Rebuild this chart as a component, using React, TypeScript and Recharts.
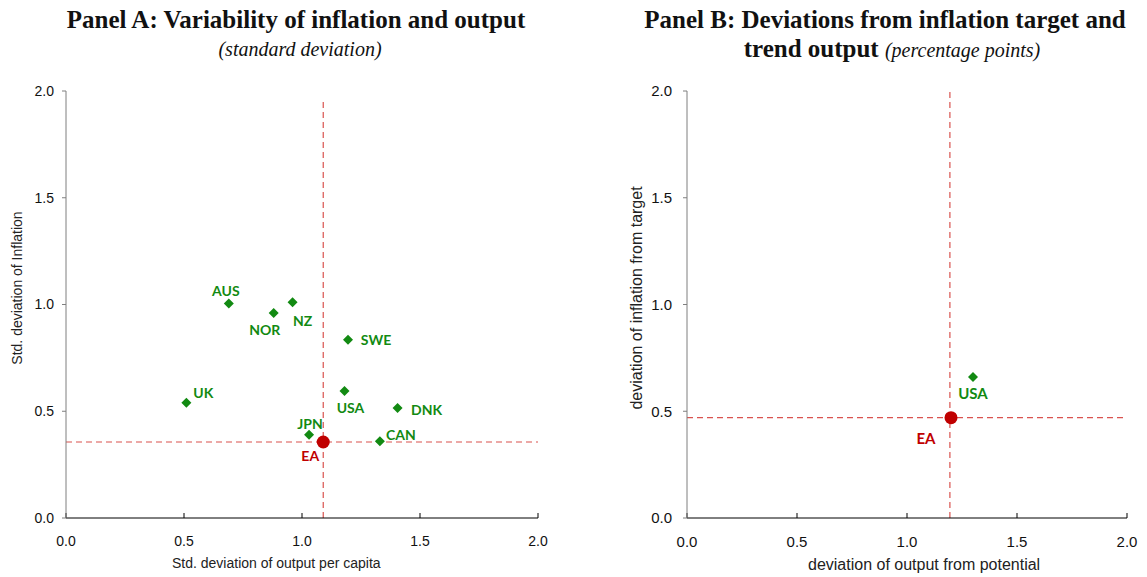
import { ScatterChart, Scatter, XAxis, YAxis, ReferenceLine } from 'recharts';

// Panel A: standard deviations
const panelACountries = ['AUS', 'NOR', 'NZ', 'SWE', 'UK', 'USA', 'DNK', 'JPN', 'CAN'];
const panelAOutput = [0.69, 0.88, 0.96, 1.195, 0.51, 1.18, 1.405, 1.03, 1.33];
const panelAInflation = [1.005, 0.96, 1.01, 0.835, 0.54, 0.595, 0.515, 0.39, 0.36];
const panelAEaOutput = 1.09;
const panelAEaInflation = 0.356;

// Panel B: deviations from target / trend
const panelBCountries = ['USA'];
const panelBOutput = [1.3];
const panelBInflation = [0.66];
const panelBEaOutput = 1.2;
const panelBEaInflation = 0.47;

const axisTicks = [0, 0.5, 1, 1.5, 2];

const GREEN = '#128a12';
const RED = '#c00000';
const DASH = '#d9534f';

// label offsets relative to the marker (px)
const labelOffsetA: Record<string, [number, number]> = {
  AUS: [-3, -13], NOR: [-9, 16], NZ: [10, 18], SWE: [28, 0], UK: [17, -10],
  USA: [6, 17], DNK: [29, 1], JPN: [1, -11], CAN: [21, -7], EA: [-13, 14],
};
const labelOffsetB: Record<string, [number, number]> = {
  USA: [0, 16], EA: [-25, 20],
};

const toPoints = (names: string[], xs: number[], ys: number[]) =>
  names.map((name, i) => ({ name, x: xs[i], y: ys[i] }));

const labelFont = 'Lato, "Liberation Sans", sans-serif';

const diamond = (offsets: Record<string, [number, number]>, fontSize: number) => (props: any) => {
  const { cx, cy, payload } = props;
  const [dx, dy] = offsets[payload.name] || [0, 0];
  const r = 5;
  return (
    <g>
      <path d={`M${cx},${cy - r}L${cx + r},${cy}L${cx},${cy + r}L${cx - r},${cy}Z`} fill={GREEN} />
      <text x={cx + dx} y={cy + dy} textAnchor="middle" dominantBaseline="central" fill={GREEN}
        style={{ fontFamily: labelFont, fontWeight: 700, fontSize }}>
        {payload.name}
      </text>
    </g>
  );
};

const circle = (offsets: Record<string, [number, number]>, fontSize: number) => (props: any) => {
  const { cx, cy, payload } = props;
  const [dx, dy] = offsets[payload.name] || [0, 0];
  return (
    <g>
      <circle cx={cx} cy={cy} r={6.5} fill={RED} />
      <text x={cx + dx} y={cy + dy} textAnchor="middle" dominantBaseline="central" fill={RED}
        style={{ fontFamily: labelFont, fontWeight: 700, fontSize }}>
        {payload.name}
      </text>
    </g>
  );
};

const fmt = (v: number) => v.toFixed(1);

const titleStyle: React.CSSProperties = {
  position: 'absolute',
  fontFamily: '"Liberation Serif", "DejaVu Serif", serif',
  fontSize: 25,
  fontWeight: 700,
  color: '#111',
  textAlign: 'center',
  whiteSpace: 'nowrap',
};
const subStyle: React.CSSProperties = { fontWeight: 400, fontStyle: 'italic', fontSize: 20 };
const axisTitleStyle: React.CSSProperties = {
  position: 'absolute',
  fontFamily: '"Liberation Sans", Arial, sans-serif',
  color: '#222',
  whiteSpace: 'nowrap',
};

const Panel = ({
  left, width, right, yAxisWidth, yTickMargin, tickFont, labelSize, points, ea, offsets, eaLine,
}: {
  left: number; width: number; right: number; yAxisWidth: number; yTickMargin: number;
  tickFont: number; labelSize: number;
  points: { name: string; x: number; y: number }[];
  ea: { name: string; x: number; y: number }[];
  offsets: Record<string, [number, number]>;
  eaLine: { x: number; y: number; top: number };
}) => {
  const tickStyle = { fontFamily: '"Liberation Sans", Arial, sans-serif', fontSize: tickFont, fill: '#111' };
  return (
    <div style={{ position: 'absolute', left, top: 0 }}>
      <ScatterChart width={width} height={577} margin={{ top: 91, right, bottom: 0, left: 0 }}>
        <XAxis
          type="number"
          dataKey="x"
          domain={[0, 2]}
          ticks={axisTicks}
          tickFormatter={fmt}
          interval={0}
          height={59}
          stroke="#000"
          tickSize={-5}
          tickMargin={23}
          tick={tickStyle}
          allowDataOverflow
        />
        <YAxis
          type="number"
          dataKey="y"
          domain={[0, 2]}
          ticks={axisTicks}
          tickFormatter={fmt}
          interval={0}
          width={yAxisWidth}
          stroke="#7f7f7f"
          tickSize={4}
          tickMargin={yTickMargin}
          tick={tickStyle}
          allowDataOverflow
        />
        <ReferenceLine
          segment={[{ x: 0, y: eaLine.y }, { x: 2, y: eaLine.y }]}
          stroke={DASH}
          strokeDasharray="6 4"
          strokeWidth={1.2}
          ifOverflow="visible"
        />
        <ReferenceLine
          segment={[{ x: eaLine.x, y: 0 }, { x: eaLine.x, y: eaLine.top }]}
          stroke={DASH}
          strokeDasharray="6 4"
          strokeWidth={1.2}
          ifOverflow="visible"
        />
        <Scatter data={points} shape={diamond(offsets, labelSize)} isAnimationActive={false} />
        <Scatter data={ea} shape={circle(offsets, labelSize)} isAnimationActive={false} />
      </ScatterChart>
    </div>
  );
};

export default function App() {
  const pointsA = toPoints(panelACountries, panelAOutput, panelAInflation);
  const pointsB = toPoints(panelBCountries, panelBOutput, panelBInflation);
  const eaA = [{ name: 'EA', x: panelAEaOutput, y: panelAEaInflation }];
  const eaB = [{ name: 'EA', x: panelBEaOutput, y: panelBEaInflation }];

  return (
    <div style={{ position: 'absolute', left: 0, top: 0, width: 1147, height: 577, background: '#fff', overflow: 'hidden' }}>
      <div style={{ ...titleStyle, left: 0, width: 592, top: 6 }}>Panel A: Variability of inflation and output</div>
      <div style={{ ...titleStyle, ...subStyle, left: 0, width: 600, top: 38 }}>(standard deviation)</div>
      <div style={{ ...titleStyle, left: 600, width: 570, top: 6 }}>Panel B: Deviations from inflation target and</div>
      <div style={{ ...titleStyle, left: 600, width: 584, top: 35 }}>
        trend output <span style={subStyle}>(percentage points)</span>
      </div>

      <Panel
        left={0}
        width={560}
        right={22}
        yAxisWidth={66}
        yTickMargin={8}
        tickFont={14}
        labelSize={14}
        points={pointsA}
        ea={eaA}
        offsets={labelOffsetA}
        eaLine={{ x: panelAEaOutput, y: panelAEaInflation, top: 1.96 }}
      />
      <Panel
        left={580}
        width={567}
        right={20}
        yAxisWidth={107}
        yTickMargin={11}
        tickFont={15}
        labelSize={15}
        points={pointsB}
        ea={eaB}
        offsets={labelOffsetB}
        eaLine={{ x: panelBEaOutput - 0.005, y: panelBEaInflation, top: 2.01 }}
      />

      <div style={{ ...axisTitleStyle, fontSize: 14, left: 172, top: 555 }}>Std. deviation of output per capita</div>
      <div style={{ ...axisTitleStyle, fontSize: 16, left: 808, top: 556 }}>deviation of output from potential</div>
      <div
        style={{
          ...axisTitleStyle,
          fontSize: 14,
          left: 17,
          top: 288,
          transform: 'translate(-50%, -50%) rotate(-90deg)',
        }}
      >
        Std. deviation of Inflation
      </div>
      <div
        style={{
          ...axisTitleStyle,
          fontSize: 16,
          left: 637,
          top: 298,
          transform: 'translate(-50%, -50%) rotate(-90deg)',
        }}
      >
        deviation of inflation from target
      </div>
    </div>
  );
}
